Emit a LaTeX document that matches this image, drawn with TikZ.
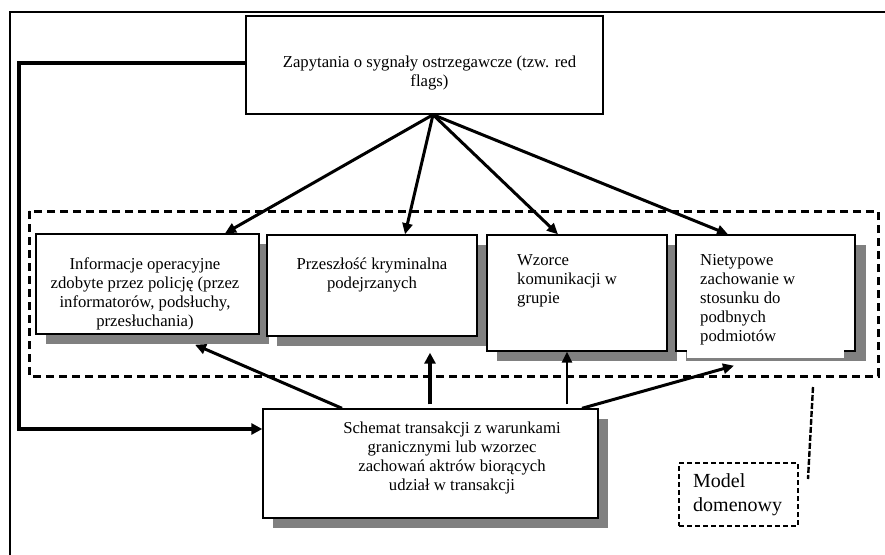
\documentclass[tikz,border=0pt]{standalone}
\usepackage{fontspec}
\setmainfont{Liberation Serif}
\usetikzlibrary{arrows.meta,calc}
\definecolor{shadowgray}{HTML}{808080}
\begin{document}
\begin{tikzpicture}[x=1pt,y=-1pt,
  box/.style={draw=black, line width=1.4pt, fill=white, inner sep=0pt},
  txt/.style={inner sep=0pt, font=\fontsize{16.7}{19}\selectfont, align=center},
  arr/.style={line width=3pt, -{Triangle[length=11pt,width=10pt]}},
  thinarr/.style={line width=2.4pt, -{Triangle[length=11pt,width=10pt]}},
  thickarr/.style={line width=3.8pt, -{Triangle[length=11pt,width=11pt]}},
  domainbox/.style={draw=black, line width=3pt, dash pattern=on 8pt off 5pt},
  modelbox/.style={draw=black, line width=2.4pt, dash pattern=on 5pt off 3pt, inner sep=0pt},
]
\useasboundingbox (0,0) rectangle (885,554);
\fill[white] (0,0) rectangle (885,554);
% outer frame
\draw[line width=2.6pt] (10,560) -- (10,12) -- (890,12);

% shadows
\fill[shadowgray] (46,244) rectangle (269,344);
\fill[shadowgray] (277,245) rectangle (487,346);
\fill[shadowgray] (497,245) rectangle (677,361);
\fill[shadowgray] (686,245) rectangle (866,361);
\fill[shadowgray] (273,419) rectangle (608,528);

% boxes
\node[box, minimum width=357pt, minimum height=98pt] (top) at (424.5,65) {};
\node[box, minimum width=223pt, minimum height=100pt] (b1) at (147.5,284) {};
\node[box, minimum width=210pt, minimum height=101pt] (b2) at (372,285.5) {};
\node[box, minimum width=180pt, minimum height=116pt] (b3) at (577,293) {};
\node[box, minimum width=179pt, minimum height=116pt] (b4) at (765.5,293) {};
\fill[white] (687,340) rectangle (844,358);
\node[box, minimum width=335pt, minimum height=109pt] (sch) at (430.5,463.5) {};

% texts
\node[txt] (ttop) at (429.5,73) {Zapytania o sygnały ostrzegawcze (tzw. red\\flags)};
\node[txt] (t1) at (145,294) {Informacje operacyjne\\zdobyte przez policję (przez\\informatorów, podsłuchy,\\przesłuchania)};
\node[txt] (t2) at (372,275) {Przeszłość kryminalna\\podejrzanych};
\node[txt, align=left, anchor=west] (t3) at (517,281) {Wzorce\\komunikacji w\\grupie};
\node[txt, align=left, anchor=west] (t4) at (700,300) {Nietypowe\\zachowanie w\\stosunku do\\podbnych\\podmiotów};
\node[txt] (tsch) at (452,458) {Schemat transakcji z warunkami\\granicznymi lub wzorzec\\zachowań aktrów biorących\\udział w transakcji};

% domain model dashed frame
\draw[domainbox] (29,211) rectangle (878,376);
\node[modelbox, minimum width=119pt, minimum height=63pt] (model) at (738.5,494.5) {};
\node[txt, align=left, anchor=west, font=\fontsize{20}{24}\selectfont] (tmodel) at (693,495) {Model\\domenowy};
\coordinate (mc1) at (813,387);
\coordinate (mc2) at (808,479);
\draw[line width=2.4pt, dash pattern=on 6pt off 2pt] (mc1) -- (mc2);

% arrows from top box
\draw[arr] ([xshift=8.5pt]top.south) -- ([xshift=77.5pt]b1.north);
\draw[arr] ([xshift=8.5pt]top.south) -- ([xshift=33pt]b2.north);
\draw[arr] ([xshift=8.5pt]top.south) -- ([xshift=-19pt]b3.north);
\draw[arr] ([xshift=8.5pt]top.south) -- ([xshift=-37.5pt]b4.north);

% arrows from schemat box
\draw[arr] ([xshift=-88.5pt]sch.north) -- ([xshift=47.5pt,yshift=-10pt]b1.south);
\draw[thickarr] ([xshift=-0.5pt,yshift=4pt]sch.north) -- ([xshift=58pt,yshift=-16pt]b2.south);
\draw[thinarr] ([xshift=136.5pt,yshift=4pt]sch.north) -- ([xshift=-10pt]b3.south);
\draw[arr] ([xshift=151.5pt]sch.north) -- ([xshift=-31.5pt,yshift=-14pt]b4.south);

% feedback line
\coordinate (fb1) at (19,63);
\coordinate (fb2) at (19,429);
\draw[thickarr] ([yshift=2pt]top.west) -- (fb1) -- (fb2) -- ([yshift=34.5pt]sch.west);
\end{tikzpicture}
\end{document}
